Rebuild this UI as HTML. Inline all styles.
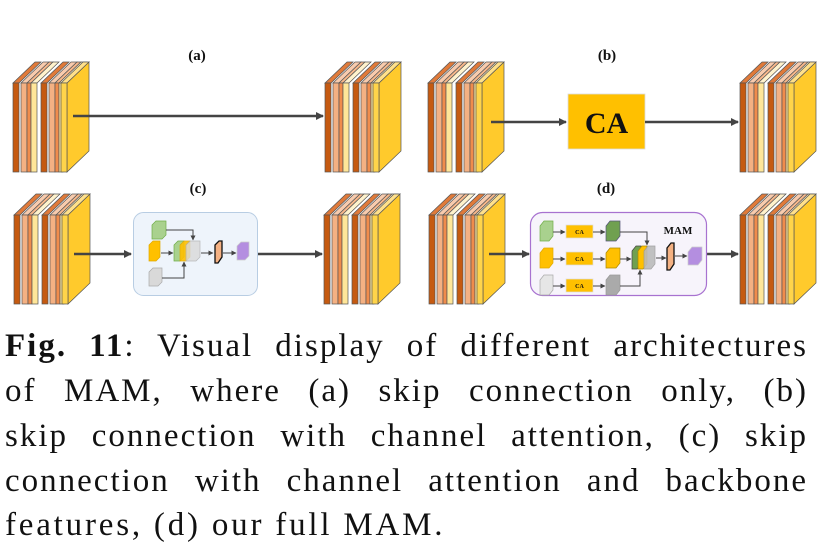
<!DOCTYPE html>
<html><head><meta charset="utf-8"><style>
html,body{margin:0;padding:0;background:#fff;}
body{width:822px;height:552px;position:relative;overflow:hidden;}
svg{position:absolute;left:0;top:0;}
.cap{position:absolute;left:5px;width:803px;font-family:"Liberation Serif",serif;font-size:33px;letter-spacing:2px;color:#111;white-space:nowrap;}
.j{text-align:justify;text-align-last:justify;}
</style></head><body>
<svg width="822" height="320" viewBox="0 0 822 320" xmlns="http://www.w3.org/2000/svg">
<defs>
<marker id="ah" markerWidth="8" markerHeight="8" refX="7" refY="4" orient="auto" markerUnits="userSpaceOnUse"><path d="M0,0 L8,4 L0,8 Z" fill="#444"/></marker>
<marker id="ahs" markerWidth="5" markerHeight="5" refX="4.5" refY="2.5" orient="auto" markerUnits="userSpaceOnUse"><path d="M0,0 L5,2.5 L0,5 Z" fill="#444"/></marker>
<g id="stk" stroke="#555" stroke-width="0.7">
 <polygon points="1,21 23,0 29,0 7,21" fill="#e07a3a"/><rect x="1" y="21" width="6" height="89" fill="#c55a11"/>
 <polygon points="9,21 31,0 37,0 15,21" fill="#f8cbad"/><rect x="9" y="21" width="6" height="89" fill="#f4b183"/>
 <polygon points="15,21 37,0 41,0 19,21" fill="#f8b88b"/><rect x="15" y="21" width="4" height="89" fill="#f08c4c"/>
 <polygon points="19,21 41,0 47,0 25,21" fill="#fff2cc"/><rect x="19" y="21" width="6" height="89" fill="#ffe699"/>
 <polygon points="29,21 51,0 57,0 35,21" fill="#e07a3a"/><rect x="29" y="21" width="6" height="89" fill="#c55a11"/>
 <polygon points="37,21 59,0 65,0 43,21" fill="#f8cbad"/><rect x="37" y="21" width="6" height="89" fill="#f4b183"/>
 <polygon points="43,21 65,0 69,0 47,21" fill="#f8b88b"/><rect x="43" y="21" width="4" height="89" fill="#f08c4c"/>
 <polygon points="47,21 69,0 75,0 53,21" fill="#fff2cc"/><rect x="47" y="21" width="4" height="89" fill="#ffe699"/>
 <polygon points="55,21 77,0 77,89 55,110" fill="#ffca2c"/>
 <polygon points="49,21 71,0 77,0 55,21" fill="#ffe08a"/><rect x="49" y="21" width="6" height="89" fill="#ffd44a"/>
</g>
</defs>
<g font-family="Liberation Serif,serif" font-weight="bold" font-size="15" fill="#111" text-anchor="middle">
<text x="197" y="60">(a)</text><text x="607" y="60">(b)</text>
<text x="198" y="193">(c)</text><text x="606" y="193">(d)</text>
</g>
<use href="#stk" x="12" y="62"/>
<use href="#stk" x="324" y="62"/>
<line x1="73" y1="116" x2="323" y2="116" stroke="#444" stroke-width="2.5" marker-end="url(#ah)"/>
<use href="#stk" x="427" y="62"/>
<use href="#stk" x="739" y="62"/>
<line x1="491" y1="122" x2="566" y2="122" stroke="#444" stroke-width="2.5" marker-end="url(#ah)"/>
<rect x="568" y="94" width="77" height="55" fill="#ffc000" stroke="#ddd" stroke-width="0.8"/>
<text x="606.5" y="133" font-family="Liberation Serif,serif" font-weight="bold" font-size="30" text-anchor="middle" fill="#111">CA</text>
<line x1="645" y1="122" x2="738" y2="122" stroke="#444" stroke-width="2.5" marker-end="url(#ah)"/>
<use href="#stk" x="13" y="194"/>
<use href="#stk" x="323" y="194"/>
<use href="#stk" x="428" y="194"/>
<use href="#stk" x="739" y="194"/>
<line x1="74" y1="254" x2="131" y2="254" stroke="#444" stroke-width="2.5" marker-end="url(#ah)"/>
<line x1="258" y1="254" x2="322" y2="254" stroke="#444" stroke-width="2.5" marker-end="url(#ah)"/>
<line x1="489" y1="254" x2="529" y2="254" stroke="#444" stroke-width="2.5" marker-end="url(#ah)"/>
<line x1="707" y1="254" x2="738" y2="254" stroke="#444" stroke-width="2.5" marker-end="url(#ah)"/>
<rect x="133.5" y="212.5" width="124" height="83" rx="10" fill="#eef4fb" stroke="#b8cde3" stroke-width="1"/>
<g stroke-width="0.7">
 <polygon points="152,225 156,221 166,221 166,235 162,239 152,239" fill="#a9d18e" stroke="#70ad47"/>
 <polygon points="149,245 153,241 160,241 160,257 156,261 149,261" fill="#ffc000" stroke="#e0a800"/>
 <polygon points="149,272 153,268 162,268 162,282 158,286 149,286" fill="#d9d9d9" stroke="#aaa"/>
 <polygon points="174,245 178,241 184,241 184,257 180,261 174,261" fill="#a9d18e" stroke="#70ad47"/>
 <polygon points="180,245 184,241 190,241 190,257 186,261 180,261" fill="#ffc000" stroke="#e0a800" opacity="0.9"/>
 <polygon points="186,245 190,241 200,241 200,257 196,261 186,261" fill="#d9d9d9" stroke="#aaa" opacity="0.8"/>
 <polygon points="215,245 219,241 222,241 222,257 218,263 215,263" fill="#f4b183" stroke="#111" stroke-width="1.3"/>
 <polygon points="237,246 241,242 249,242 249,256 245,260 237,260" fill="#b48ee0" stroke="#ccc"/>
</g>
<g stroke="#444" stroke-width="1" fill="none">
 <path d="M166,230 H193 V240" marker-end="url(#ahs)"/>
 <line x1="161" y1="253" x2="173" y2="253" marker-end="url(#ahs)"/>
 <path d="M162,278 H184 V262" marker-end="url(#ahs)"/>
 <line x1="201" y1="253" x2="213" y2="253" marker-end="url(#ahs)"/>
 <line x1="223" y1="253" x2="236" y2="253" marker-end="url(#ahs)"/>
</g>
<rect x="530.5" y="212.5" width="176" height="83" rx="12" fill="#f7f4fb" stroke="#a872d0" stroke-width="1.2"/>
<g stroke-width="0.7">
 <polygon points="540,226 544,221 553,221 553,236 549,241 540,241" fill="#a9d18e" stroke="#70ad47"/>
 <polygon points="540,253 544,248 553,248 553,263 549,268 540,268" fill="#ffc000" stroke="#e0a800"/>
 <polygon points="540,280 544,275 553,275 553,290 549,295 540,295" fill="#e6e6e6" stroke="#aaa"/>
 <rect x="566" y="225" width="27" height="13" fill="#ffc000" stroke="#ddd"/>
 <rect x="566" y="252" width="27" height="13" fill="#ffc000" stroke="#ddd"/>
 <rect x="566" y="279" width="27" height="13" fill="#ffc000" stroke="#ddd"/>
 <polygon points="606,226 610,221 620,221 620,236 616,241 606,241" fill="#70a050" stroke="#557"/>
 <polygon points="606,253 610,248 620,248 620,263 616,268 606,268" fill="#ffc000" stroke="#a80"/>
 <polygon points="606,280 610,275 620,275 620,290 616,295 606,295" fill="#aaa" stroke="#999"/>
 <polygon points="632,251 636,246 641,246 641,264 637,269 632,269" fill="#70a050" stroke="#444"/>
 <polygon points="638,251 642,246 647,246 647,264 643,269 638,269" fill="#ffc000" stroke="#a80"/>
 <polygon points="644,251 648,246 655,246 655,264 651,269 644,269" fill="#bbb" stroke="#999" opacity="0.9"/>
 <polygon points="667,248 671,243 674,243 674,264 670,270 667,270" fill="#f4b183" stroke="#111" stroke-width="1.3"/>
 <polygon points="688,252 692,247 702,247 702,260 698,265 688,265" fill="#b48ee0" stroke="#ccc"/>
</g>
<g font-family="Liberation Serif,serif" font-weight="bold" font-size="6" fill="#111" text-anchor="middle">
<text x="579.5" y="234">CA</text><text x="579.5" y="261">CA</text><text x="579.5" y="288">CA</text>
</g>
<text x="678" y="234" font-family="Liberation Serif,serif" font-weight="bold" font-size="11" text-anchor="middle" fill="#111">MAM</text>
<g stroke="#444" stroke-width="1" fill="none">
 <line x1="553" y1="232" x2="565" y2="232" marker-end="url(#ahs)"/>
 <line x1="553" y1="259" x2="565" y2="259" marker-end="url(#ahs)"/>
 <line x1="553" y1="286" x2="565" y2="286" marker-end="url(#ahs)"/>
 <line x1="593" y1="232" x2="605" y2="232" marker-end="url(#ahs)"/>
 <line x1="593" y1="259" x2="605" y2="259" marker-end="url(#ahs)"/>
 <line x1="593" y1="286" x2="605" y2="286" marker-end="url(#ahs)"/>
 <path d="M620,232 H647 V245" marker-end="url(#ahs)"/>
 <line x1="620" y1="259" x2="631" y2="259" marker-end="url(#ahs)"/>
 <path d="M620,286 H640 V270" marker-end="url(#ahs)"/>
 <line x1="656" y1="258" x2="666" y2="258" marker-end="url(#ahs)"/>
 <line x1="675" y1="256" x2="687" y2="256" marker-end="url(#ahs)"/>
</g>
</svg>
<div class="cap j" style="top:328px;"><b>Fig. 11</b>: Visual display of different architectures</div>
<div class="cap j" style="top:373px;">of MAM, where (a) skip connection only, (b)</div>
<div class="cap j" style="top:418px;">skip connection with channel attention, (c) skip</div>
<div class="cap j" style="top:463px;">connection with channel attention and backbone</div>
<div class="cap" style="top:507px;letter-spacing:2.8px;">features, (d) our full MAM.</div>
</body></html>
